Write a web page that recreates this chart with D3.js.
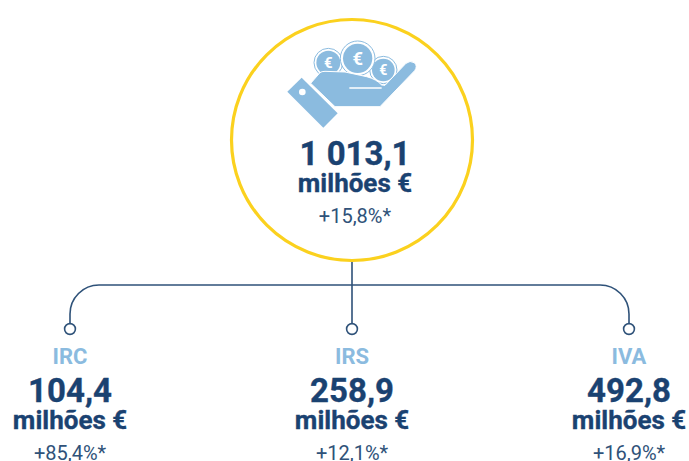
<!DOCTYPE html>
<html>
<head>
<meta charset="utf-8">
<script src="https://cdn.jsdelivr.net/npm/d3@7"></script>
<style>
  html, body { margin: 0; padding: 0; background: #fff; overflow: hidden; }
  text { font-family: Roboto, sans-serif; text-anchor: middle; }
  .bold { stroke-width: 0.35; paint-order: stroke; }
</style>
</head>
<body>
<svg id="chart" width="689" height="461"></svg>
<script>
// Data
const totalValue = '1 013,1';
const totalChange = '+15,8%*';
const unitLabel = 'milhões €';
const taxes = ['IRC', 'IRS', 'IVA'];
const taxValues = ['104,4', '258,9', '492,8'];
const taxChanges = ['+85,4%*', '+12,1%*', '+16,9%*'];

const NAVY = '#1a4271';
const LINE = '#2f5279';
const LIGHT = '#8bbbdf';
const YELLOW = '#fbd11e';

const svg = d3.select('#chart');
const x = d3.scaleOrdinal().domain(taxes).range([70, 352, 629]);
const cx = x('IRS');
const textX = 355; // the text block sits a little right of the circle centre
const busY = 285, dotY = 329, bend = 29;

// Connectors
const link = d3.path();
link.moveTo(x('IRC'), dotY);
link.arcTo(x('IRC'), busY, x('IRC') + bend, busY, bend);
link.arcTo(x('IVA'), busY, x('IVA'), busY + bend, bend);
link.lineTo(x('IVA'), dotY);
link.moveTo(cx, 260);
link.lineTo(cx, dotY);
svg.append('path').attr('d', link.toString())
  .attr('fill', 'none').attr('stroke', LINE).attr('stroke-width', 1.6);

svg.selectAll('.dot').data(taxes).join('circle')
  .attr('class', 'dot')
  .attr('cx', d => x(d)).attr('cy', dotY).attr('r', 5.4)
  .attr('fill', '#fff').attr('stroke', LINE).attr('stroke-width', 1.6);

// Main circle
svg.append('circle')
  .attr('cx', cx).attr('cy', 140).attr('r', 120.5)
  .attr('fill', '#fff').attr('stroke', YELLOW).attr('stroke-width', 3.2);

// Icon
const icon = svg.append('g').attr('transform', 'translate(270,30) scale(0.3333)');
[[175, 98, 36, 43], [340, 120, 34, 41], [263, 85, 44, 52]].forEach(c => {
  icon.append('circle').attr('cx', c[0]).attr('cy', c[1]).attr('r', c[3])
    .attr('fill', '#fff').attr('stroke', LIGHT).attr('stroke-width', 3);
  icon.append('circle').attr('cx', c[0]).attr('cy', c[1]).attr('r', c[2]).attr('fill', LIGHT);
  icon.append('text').attr('x', c[0]).attr('y', c[1] + c[2] * 0.45)
    .attr('font-size', c[2] * 1.25).attr('font-weight', 700).attr('fill', '#fff').text('€');
});
icon.append('path')
  .attr('d', 'M122,160 L150,128 Q155,124 165,124 L225,126 L290,140 Q320,148 335,165 L345,166 L408,100 Q420,90 433,98 Q444,108 434,122 L330,230 L195,230 Z')
  .attr('fill', LIGHT).attr('stroke', '#fff').attr('stroke-width', 3);
icon.append('path').attr('d', 'M238,174 L335,174')
  .attr('stroke', '#fff').attr('stroke-width', 5).attr('fill', 'none');
icon.append('path').attr('d', 'M52,185 L95,143 L203,250 L160,293 Z').attr('fill', LIGHT);
icon.append('circle').attr('cx', 97).attr('cy', 186).attr('r', 10).attr('fill', '#fff');

// Total
svg.append('text').attr('class', 'bold').attr('x', textX).attr('y', 165).attr('font-size', 33).attr('font-weight', 700)
  .attr('fill', NAVY).attr('stroke', NAVY).text(totalValue);
svg.append('text').attr('class', 'bold').attr('x', textX).attr('y', 192).attr('font-size', 26).attr('font-weight', 700)
  .attr('fill', NAVY).attr('stroke', NAVY).text(unitLabel);
svg.append('text').attr('x', textX).attr('y', 223).attr('font-size', 20)
  .attr('fill', LINE).text(totalChange);

// Tax columns
const cols = svg.selectAll('.col').data(taxes).join('g')
  .attr('class', 'col')
  .attr('transform', d => `translate(${x(d)},0)`);
cols.append('text').attr('y', 364).attr('font-size', 22).attr('font-weight', 700)
  .attr('fill', LIGHT).text(d => d);
cols.append('text').attr('class', 'bold').attr('y', 402).attr('font-size', 33).attr('font-weight', 700)
  .attr('fill', NAVY).attr('stroke', NAVY).text((d, i) => taxValues[i]);
cols.append('text').attr('class', 'bold').attr('y', 429).attr('font-size', 26).attr('font-weight', 700)
  .attr('fill', NAVY).attr('stroke', NAVY).text(unitLabel);
cols.append('text').attr('y', 460).attr('font-size', 20)
  .attr('fill', LINE).text((d, i) => taxChanges[i]);
</script>
</body>
</html>
